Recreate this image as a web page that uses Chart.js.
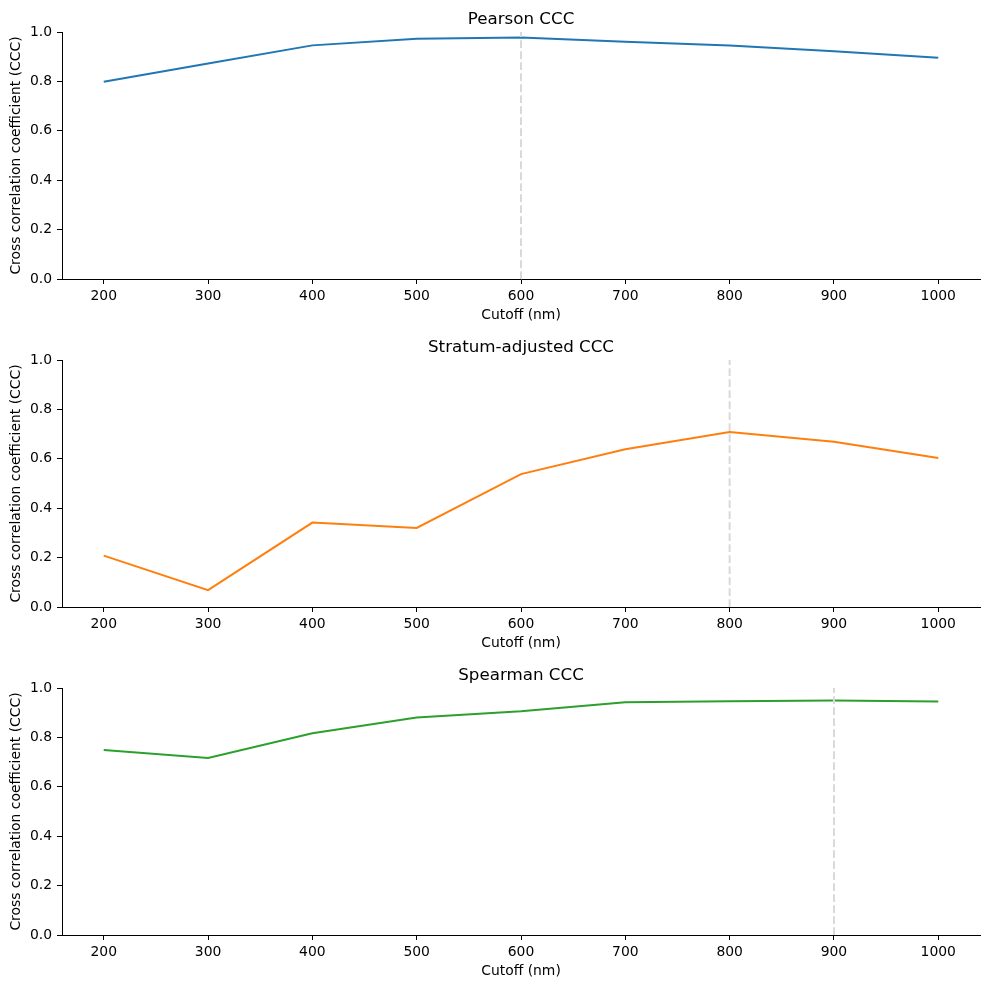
<!DOCTYPE html>
<html>
<head>
<style>
  body { margin: 0; background: #fff; }
  canvas { position: absolute; left: 0; }
</style>
</head>
<body>
<canvas id="chartPearson" width="989" height="328" style="top:0px"></canvas>
<canvas id="chartStratum" width="989" height="328" style="top:328px"></canvas>
<canvas id="chartSpearman" width="989" height="328" style="top:656px"></canvas>
<script src="https://cdn.jsdelivr.net/npm/chart.js@4"></script>
<script>
const cutoffs = [200, 300, 400, 500, 600, 700, 800, 900, 1000];
const pearsonCCC = [0.799, 0.873, 0.946, 0.973, 0.978, 0.961, 0.945, 0.922, 0.896];
const stratumCCC = [0.208, 0.068, 0.342, 0.320, 0.538, 0.639, 0.709, 0.669, 0.603];
const spearmanCCC = [0.749, 0.717, 0.817, 0.881, 0.906, 0.942, 0.947, 0.950, 0.945];
const bestCutoffs = [600, 800, 900];
const xTicks = [200, 300, 400, 500, 600, 700, 800, 900, 1000];
const yTicks = [0, 0.2, 0.4, 0.6, 0.8, 1.0];

(function() {
    const family = "'DejaVu Sans', sans-serif";
    const tickFont = { family: family, size: 13.9 };

    function makeChart(id, title, values, color, best) {
        const lineData = cutoffs.map((c, i) => ({ x: c, y: values[i] }));
        return new Chart(document.getElementById(id).getContext('2d'), {
            type: 'line',
            data: {
                datasets: [{
                    data: [{ x: best, y: 0 }, { x: best, y: 1 }],
                    borderColor: '#d9d9d9',
                    borderWidth: 2,
                    borderDash: [7.7, 3.3],
                    pointRadius: 0
                }, {
                    data: lineData,
                    borderColor: color,
                    borderWidth: 2,
                    pointRadius: 0,
                    tension: 0
                }]
            },
            options: {
                responsive: false,
                animation: false,
                devicePixelRatio: 1,
                layout: { padding: { left: 0, right: 9, top: 0, bottom: 0 } },
                plugins: {
                    legend: { display: false },
                    tooltip: { enabled: false },
                    title: {
                        display: true,
                        fullSize: false,
                        text: title,
                        color: '#000',
                        font: { family: family, size: 16.7, weight: 'normal' },
                        padding: { top: 10, bottom: 2 }
                    }
                },
                scales: {
                    x: {
                        type: 'linear',
                        min: 160,
                        max: 1040,
                        afterBuildTicks: s => { s.ticks = xTicks.map(v => ({ value: v })); },
                        afterFit: s => { s.height = 49; },
                        grid: { drawOnChartArea: false, drawTicks: true, tickLength: 5, color: '#000' },
                        border: { color: '#000', width: 1 },
                        ticks: { color: '#000', font: tickFont, padding: 4, maxRotation: 0, autoSkip: false, callback: v => String(v) },
                        title: { display: true, text: 'Cutoff (nm)', color: '#000', font: tickFont, padding: { top: 0, bottom: 4 } }
                    },
                    y: {
                        min: 0,
                        max: 1,
                        afterBuildTicks: s => { s.ticks = yTicks.map(v => ({ value: v })); },
                        afterFit: s => { s.width = 62; },
                        grid: { drawOnChartArea: false, drawTicks: true, tickLength: 5, color: '#000' },
                        border: { color: '#000', width: 1 },
                        ticks: { color: '#000', font: tickFont, padding: 5, callback: v => v.toFixed(1) },
                        title: { display: true, text: 'Cross correlation coefficient (CCC)', color: '#000', font: tickFont, padding: { top: 8, bottom: 0 } }
                    }
                }
            }
        });
    }

    makeChart('chartPearson', 'Pearson CCC', pearsonCCC, '#1f77b4', bestCutoffs[0]);
    makeChart('chartStratum', 'Stratum-adjusted CCC', stratumCCC, '#ff7f0e', bestCutoffs[1]);
    makeChart('chartSpearman', 'Spearman CCC', spearmanCCC, '#2ca02c', bestCutoffs[2]);
})();
</script>
</body>
</html>
